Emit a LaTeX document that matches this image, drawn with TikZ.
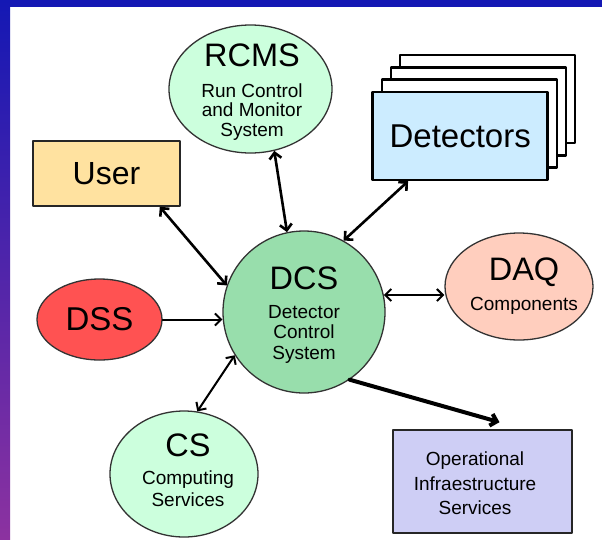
\documentclass[tikz,border=0pt]{standalone}
\usepackage{fontspec}
\setmainfont{Liberation Sans}
\usetikzlibrary{arrows.meta,shapes.geometric}
\definecolor{bandblue}{RGB}{20,24,180}
\definecolor{bandviolet}{RGB}{105,12,205}
\definecolor{bandmauve}{RGB}{140,50,160}
\definecolor{mint}{RGB}{204,255,221}
\definecolor{dcsgreen}{RGB}{152,222,172}
\definecolor{dssred}{RGB}{255,82,82}
\definecolor{daqpeach}{RGB}{255,206,190}
\definecolor{userorange}{RGB}{255,226,160}
\definecolor{detblue}{RGB}{204,236,255}
\definecolor{oislilac}{RGB}{206,206,245}
\begin{document}
\begin{tikzpicture}[x=1pt,y=-1pt,line join=round,line cap=round,
  >={Straight Barb[length=6pt,width=12pt]},
  bubble/.style={ellipse,draw=black!80,line width=1.3pt,inner sep=0pt},
  panel/.style={rectangle,draw=black!85,line width=1.6pt,inner sep=0pt},
  card/.style={panel,draw=black,line width=2.6pt,fill=white,minimum width=175pt,minimum height=88pt},
  txt/.style={align=center,inner sep=0pt},
  link/.style={<->,line width=2.6pt},
  slimlink/.style={line width=2pt}]
\def\big{\fontsize{32.5}{32.5}\selectfont}
\useasboundingbox (0,0) rectangle (602,539);
% frame
\fill[white] (0,0) rectangle (602,539);
\fill[bandblue] (0,0) rectangle (602,7);
\shade[top color=bandblue,middle color=bandviolet,bottom color=bandmauve] (0,0) rectangle (10,539);
% nodes
\node[bubble,fill=mint,minimum width=163pt,minimum height=128pt] (rcms) at (250.5,89) {};
\node[txt,font=\fontsize{19}{19.5}\selectfont] (rcmstext) at (252,92) {{\big RCMS}\\[11.7pt]Run Control\\and Monitor\\System};
\foreach \k in {3,2,1}
  \node[card] (card\k) at (460.2+9.1*\k,135.9-12.3*\k) {};
\node[card,fill=detblue,font=\fontsize{33}{33}\selectfont] (det) at (460.2,135.9) {Detectors};
\node[panel,fill=userorange,minimum width=147pt,minimum height=65pt,font=\fontsize{32}{32}\selectfont] (user) at (106.5,173.5) {User};
\node[bubble,fill=dssred,minimum width=125pt,minimum height=81pt,font=\fontsize{33}{33}\selectfont] (dss) at (99.5,319.5) {DSS};
\node[circle,draw=black!80,line width=1.3pt,inner sep=0pt,fill=dcsgreen,minimum size=162pt] (dcs) at (304,312) {};
\node[txt,font=\fontsize{19}{20.5}\selectfont] (dcstext) at (304,315) {{\big DCS}\\[8.7pt]Detector\\Control\\System};
\node[bubble,fill=daqpeach,minimum width=148pt,minimum height=107pt] (daq) at (519,286.5) {};
\node[txt,font=\fontsize{19}{21}\selectfont] (daqtext) at (524,286) {{\big DAQ}\\[9.2pt]Components};
\node[bubble,fill=mint,minimum width=148pt,minimum height=126pt] (cs) at (184,474) {};
\node[txt,font=\fontsize{19}{22}\selectfont] (cstext) at (188,470) {{\big CS}\\[6.2pt]Computing\\Services};
\node[panel,fill=oislilac,minimum width=179pt,minimum height=103pt] (ois) at (482.5,481.5) {};
\node[txt,font=\fontsize{19}{24.5}\selectfont] (oistext) at (475,483.4) {Operational\\Infraestructure\\Services};
% connectors
\draw[link] (user.-32) -- (dcs.161);
\draw[link] (rcms.-69) -- (dcs.102);
\draw[link] (det.-139) -- (dcs.61);
\draw[slimlink,->] (dss.east) -- (dss.east -| dcs.west);
\draw[slimlink,<->] (dcs.12) -- (dcs.12 -| daq.west);
\draw[slimlink,<->] (cs.78) -- (dcs.212);
\draw[->,line width=4pt] (dcs.-56) -- ([xshift=17pt,yshift=7pt]ois.north);
\end{tikzpicture}
\end{document}
